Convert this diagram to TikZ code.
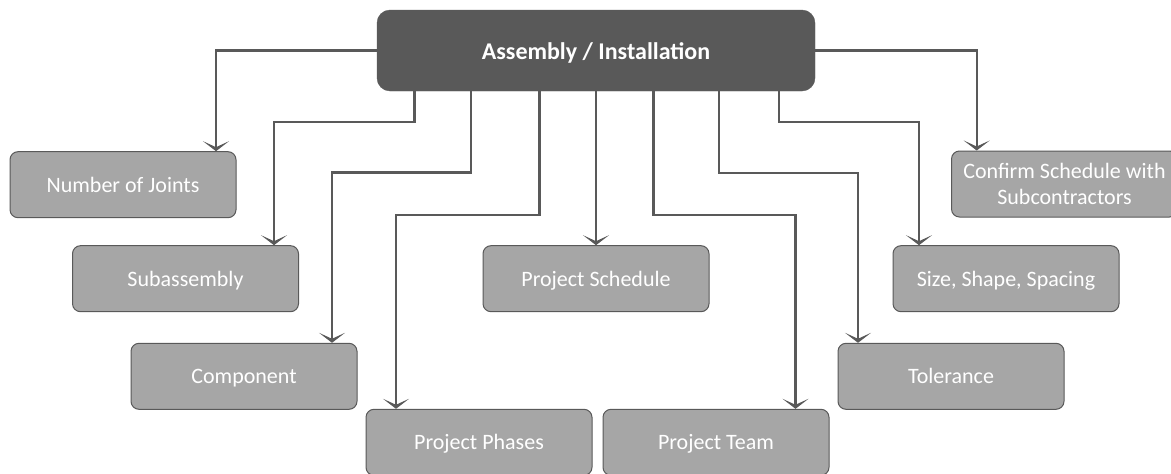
\documentclass[tikz,border=0pt]{standalone}
\usepackage{fontspec}
\setmainfont{Carlito}
\usetikzlibrary{arrows.meta,calc}
\definecolor{dk}{HTML}{595959}
\definecolor{lt}{HTML}{A6A6A6}
\begin{document}
\begin{tikzpicture}[x=1pt,y=-1pt,
  topbox/.style={draw=dk,fill=dk,rounded corners=13pt,minimum width=438pt,minimum height=81pt,inner sep=0pt,text=white,text height=18pt,text depth=0pt,font=\fontsize{24}{28}\selectfont\bfseries},
  leaf/.style={draw=dk,line width=1pt,fill=lt,rounded corners=8pt,minimum width=226pt,minimum height=66pt,inner sep=0pt,text=white,align=center,text height=15pt,text depth=0pt,font=\fontsize{22}{26}\selectfont},
  conn/.style={draw=dk,line width=2.3pt,-{Stealth[length=10pt,width=26pt,inset=6pt]}}]
\useasboundingbox (0,0) rectangle (1171,474);
\node[topbox] (top) at (596,50.5) {Assembly / Installation};
\node[leaf] (nj) at (123,184.7) {Number of Joints};
\node[leaf] (sub) at (185.5,278.7) {Subassembly};
\node[leaf] (comp) at (244,376.3) {Component};
\node[leaf] (phases) at (479,442.3) {Project Phases};
\node[leaf] (sched) at (596,278.7) {Project Schedule};
\node[leaf] (team) at (716,442.3) {Project Team};
\node[leaf] (tol) at (951,376.3) {Tolerance};
\node[leaf] (size) at (1006,278.7) {Size, Shape, Spacing};
\node[leaf,text height=41pt] (conf) at (1064.5,184) {Confirm Schedule with\\Subcontractors};
\draw[conn] (top.west) -| ([xshift=93pt]nj.north);
\draw[conn] ([xshift=-181.5pt]top.south) -- ++(0,30.7) -| ([xshift=88.5pt]sub.north);
\draw[conn] ([xshift=-125.3pt]top.south) -- ++(0,81.3) -| ([xshift=88pt]comp.north);
\draw[conn] ([xshift=-56.4pt]top.south) -- ++(0,124) -| ([xshift=-83pt]phases.north);
\draw[conn] (top.south) -- (sched.north);
\draw[conn] ([xshift=57.5pt]top.south) -- ++(0,124) -| ([xshift=79.5pt]team.north);
\draw[conn] ([xshift=123pt]top.south) -- ++(0,81.5) -| ([xshift=-93pt]tol.north);
\draw[conn] ([xshift=183pt]top.south) -- ++(0,31) -| ([xshift=-87pt]size.north);
\draw[conn] (top.east) -| ([xshift=-87.8pt]conf.north);
\end{tikzpicture}
\end{document}
